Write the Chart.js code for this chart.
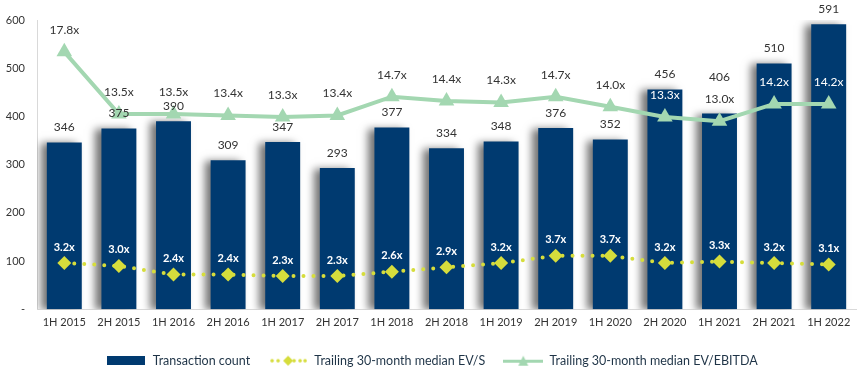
<!DOCTYPE html>
<html>
<head>
<meta charset="utf-8">
<script src="https://cdn.jsdelivr.net/npm/chart.js@4/dist/chart.umd.min.js"></script>
<style>
  html, body { margin: 0; padding: 0; background: #fff; }
  #wrap { width: 865px; height: 379px; }
</style>
</head>
<body>
<div id="wrap"><canvas id="grafico"></canvas></div>
<script>
const periodos = ['1H 2015', '2H 2015', '1H 2016', '2H 2016', '1H 2017', '2H 2017', '1H 2018', '2H 2018', '1H 2019', '2H 2019', '1H 2020', '2H 2020', '1H 2021', '2H 2021', '1H 2022'];
const transacciones = [346, 375, 390, 309, 347, 293, 377, 334, 348, 376, 352, 456, 406, 510, 591];
const evVentas = [3.2, 3.0, 2.4, 2.4, 2.3, 2.3, 2.6, 2.9, 3.2, 3.7, 3.7, 3.2, 3.3, 3.2, 3.1];
const evEbitda = [17.8, 13.5, 13.5, 13.4, 13.3, 13.4, 14.7, 14.4, 14.3, 14.7, 14.0, 13.3, 13.0, 14.2, 14.2];

const AZUL = '#003a70';
const AMARILLO = '#d6dd3c';
const VERDE = '#a3d7b1';
const TEXTO = '#333333';
const FUENTE = 'Lato, "Open Sans", sans-serif';

// swatches para la leyenda
function swatch(w, h, dibujar) {
    const c = document.createElement('canvas');
    c.width = w; c.height = h;
    dibujar(c.getContext('2d'));
    return c;
}
const swBarra = swatch(38, 9, function (g) { g.fillStyle = AZUL; g.fillRect(0, 0, 38, 9); });
const swVentas = swatch(38, 12, function (g) {
    g.fillStyle = AMARILLO;
    [3, 9, 25, 31, 36].forEach(function (x) { g.beginPath(); g.arc(x, 6, 1.8, 0, Math.PI * 2); g.fill(); });
    g.beginPath(); g.moveTo(19, 1); g.lineTo(24, 6); g.lineTo(19, 11); g.lineTo(14, 6); g.closePath(); g.fill();
    g.beginPath(); g.arc(20, 6, 2, 0, Math.PI * 2); g.fill();
});
const swEbitda = swatch(40, 12, function (g) {
    g.fillStyle = VERDE;
    g.fillRect(0, 5, 40, 3);
    g.beginPath(); g.moveTo(20, 1); g.lineTo(25, 11); g.lineTo(15, 11); g.closePath(); g.fill();
});
const swatches = [swBarra, swVentas, swEbitda];

// sombra de las barras (sin borde, si no la barra se recorta a sí misma)
const sombra = {
    id: 'sombra',
    beforeDatasetDraw(chart, args) {
        if (args.index !== 0) return;
        const ctx = chart.ctx;
        ctx.save();
        ctx.shadowColor = 'rgba(0,0,0,0.55)';
        ctx.shadowBlur = 8;
        ctx.shadowOffsetX = -6;
        ctx.shadowOffsetY = 1;
    },
    afterDatasetDraw(chart, args) {
        if (args.index === 0) chart.ctx.restore();
    }
};

// etiquetas de valores
const etiquetas = {
    id: 'etiquetas',
    afterDatasetsDraw(chart) {
        const ctx = chart.ctx;
        const barras = chart.getDatasetMeta(0).data;
        const puntosEbitda = chart.getDatasetMeta(2).data;
        ctx.save();
        ctx.textAlign = 'center';
        ctx.textBaseline = 'middle';
        ctx.font = '12px ' + FUENTE;

        puntosEbitda.forEach(function (p, i) {
            const yE = p.y - 22;
            const dentro = yE > barras[i].y + 2;
            ctx.fillStyle = dentro ? '#ffffff' : TEXTO;
            ctx.fillText(evEbitda[i].toFixed(1) + 'x', p.x, yE);

            // etiqueta de la barra, se sube si choca con la del múltiplo
            let yB = barras[i].y - 15;
            if (!dentro && Math.abs(yB - yE) < 13) yB = yE - 22;
            ctx.fillStyle = TEXTO;
            ctx.fillText(transacciones[i], barras[i].x, yB);
        });

        ctx.font = 'bold 11px ' + FUENTE;
        ctx.fillStyle = '#ffffff';
        chart.getDatasetMeta(1).data.forEach(function (p, i) {
            ctx.fillText(evVentas[i].toFixed(1) + 'x', p.x, p.y - 16);
        });
        ctx.restore();
    }
};

const ctx = document.getElementById('grafico').getContext('2d');
new Chart(ctx, {
    data: {
        labels: periodos,
        datasets: [{
            type: 'bar',
            label: 'Transaction count',
            data: transacciones,
            backgroundColor: AZUL,
            borderWidth: 0,
            barPercentage: 0.64,
            categoryPercentage: 1,
            yAxisID: 'y',
            order: 3
        }, {
            type: 'line',
            label: 'Trailing 30-month median EV/S',
            data: evVentas,
            borderColor: AMARILLO,
            borderWidth: 4,
            borderDash: [0, 10],
            borderCapStyle: 'round',
            pointStyle: 'rectRot',
            pointRadius: 7,
            pointBackgroundColor: AMARILLO,
            pointBorderWidth: 0,
            yAxisID: 'y2',
            order: 1
        }, {
            type: 'line',
            label: 'Trailing 30-month median EV/EBITDA',
            data: evEbitda,
            borderColor: VERDE,
            borderWidth: 4,
            pointStyle: 'triangle',
            pointRadius: 9,
            pointBackgroundColor: VERDE,
            pointBorderWidth: 0,
            yAxisID: 'y2',
            order: 2
        }]
    },
    options: {
        responsive: true,
        maintainAspectRatio: false,
        animation: false,
        layout: { padding: { top: 20, right: 1, bottom: 2, left: 0 } },
        scales: {
            x: {
                grid: { display: false, drawTicks: false },
                border: { color: '#d9d9d9' },
                ticks: { color: TEXTO, font: { family: FUENTE, size: 11 }, maxRotation: 0, padding: 7 }
            },
            y: {
                min: 0,
                max: 600,
                grid: { display: false, drawTicks: false },
                border: { color: '#d9d9d9' },
                afterFit: function (s) { s.width = 37; },
                ticks: {
                    stepSize: 100,
                    color: TEXTO,
                    padding: 12,
                    font: { family: FUENTE, size: 11 },
                    callback: function (v) { return v === 0 ? '-' : v; }
                }
            },
            y2: { min: 0, max: 20, display: false }
        },
        plugins: {
            tooltip: { enabled: false },
            legend: {
                position: 'bottom',
                labels: {
                    usePointStyle: true,
                    pointStyleWidth: 40,
                    padding: 18,
                    color: '#1f3447',
                    font: { family: FUENTE, size: 12.5 },
                    generateLabels: function (chart) {
                        const items = Chart.defaults.plugins.legend.labels.generateLabels(chart);
                        items.sort(function (a, b) { return a.datasetIndex - b.datasetIndex; });
                        items.forEach(function (it) { it.pointStyle = swatches[it.datasetIndex]; });
                        return items;
                    }
                }
            }
        }
    },
    plugins: [sombra, etiquetas]
});
</script>
</body>
</html>
